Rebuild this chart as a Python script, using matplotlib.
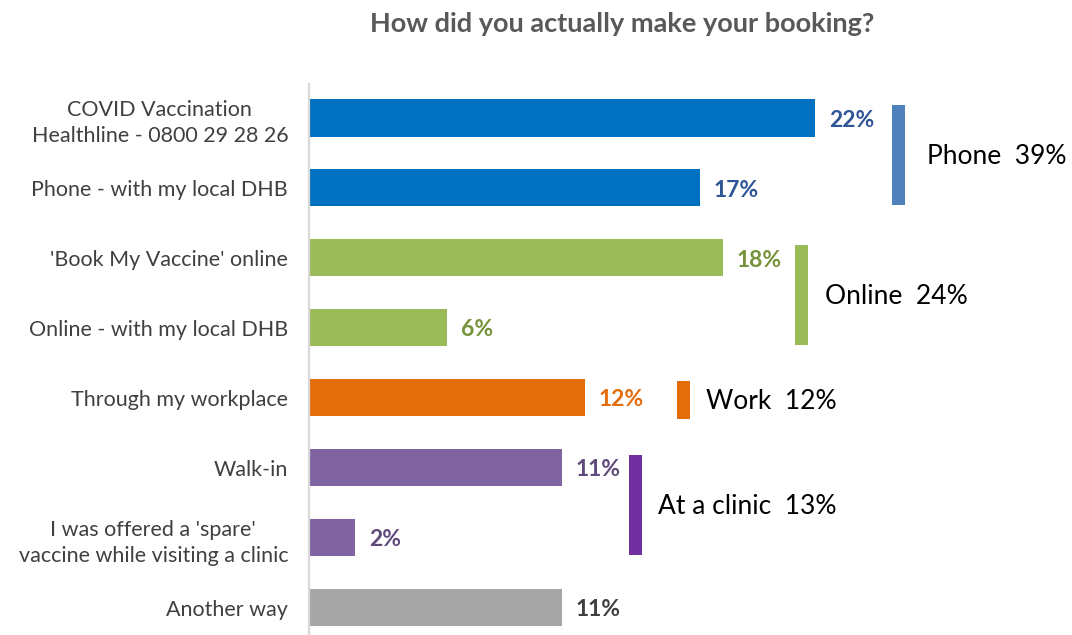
import matplotlib.pyplot as plt
from matplotlib.patches import Rectangle

plt.rcParams['font.family'] = ['Lato', 'DejaVu Sans']

# booking method shares (%)
categories = ['COVID Vaccination\nHealthline - 0800 29 28 26',
              'Phone - with my local DHB',
              "'Book My Vaccine' online",
              'Online - with my local DHB',
              'Through my workplace',
              'Walk-in',
              "I was offered a 'spare'\nvaccine while visiting a clinic",
              'Another way']
values = [22, 17, 18, 6, 12, 11, 2, 11]
bar_colors = ['#0070C0', '#0070C0', '#9BBB59', '#9BBB59', '#E46C0A',
              '#8064A2', '#8064A2', '#A6A6A6']
label_colors = ['#2F5597', '#2F5597', '#77933C', '#77933C', '#E46C0A',
                '#604A7B', '#604A7B', '#404040']

# grouped totals: name, total, first/last row, bracket x, bracket colour
group_names = ['Phone', 'Online', 'Work', 'At a clinic']
group_totals = [39, 24, 12, 13]
group_rows = [(0, 1), (2, 3), (4, 4), (5, 6)]
group_x = [25.35, 21.15, 16.0, 13.9]
group_colors = ['#4F81BD', '#9BBB59', '#E46C0A', '#7030A0']

fig = plt.figure(figsize=(10.72, 6.35), dpi=100)
ax = fig.add_axes([309 / 1072, 0, 1 - 309 / 1072, 551 / 635])

y = list(range(len(categories)))
ax.barh(y, values, height=0.53, color=bar_colors)

for yi, v, c in zip(y, values, label_colors):
    ax.text(v + 0.6, yi + 0.03, f'{v}%', va='center', ha='left',
            fontsize=16.5, fontweight='bold', color=c)

bw = 13 / 23
for name, tot, (r0, r1), gx, gc in zip(group_names, group_totals, group_rows,
                                       group_x, group_colors):
    if r0 == r1:
        top, bot = r0 - 0.24, r1 + 0.30
    else:
        top, bot = r0 - 0.18, r1 + 0.25
    ax.add_patch(Rectangle((gx, top), bw, bot - top, color=gc, lw=0))
    gap = 0.95 if name == 'Phone' else 0.7
    ax.text(gx + bw + gap, (top + bot) / 2 + 0.02, f'{name}  {tot}%',
            va='center', ha='left', fontsize=19, color='black')

ax.set_xlim(0, (1072 - 309) / 23)
ax.set_ylim(7.39, -0.486)
ax.set_yticks(y)
ax.set_yticklabels(categories, fontsize=15.5, color='#404040', linespacing=1.4,
                   multialignment='center')
ax.tick_params(axis='y', length=0, pad=15)
ax.set_xticks([])
for s in ['top', 'right', 'bottom']:
    ax.spines[s].set_visible(False)
ax.spines['left'].set_color('#D9D9D9')
ax.spines['left'].set_linewidth(1.6)

fig.text(622 / 1072, 1 - 24 / 635, 'How did you actually make your booking?',
         ha='center', va='center', fontsize=19.5, fontweight='bold',
         color='#595959')

fig.savefig('out.png', dpi=100)
